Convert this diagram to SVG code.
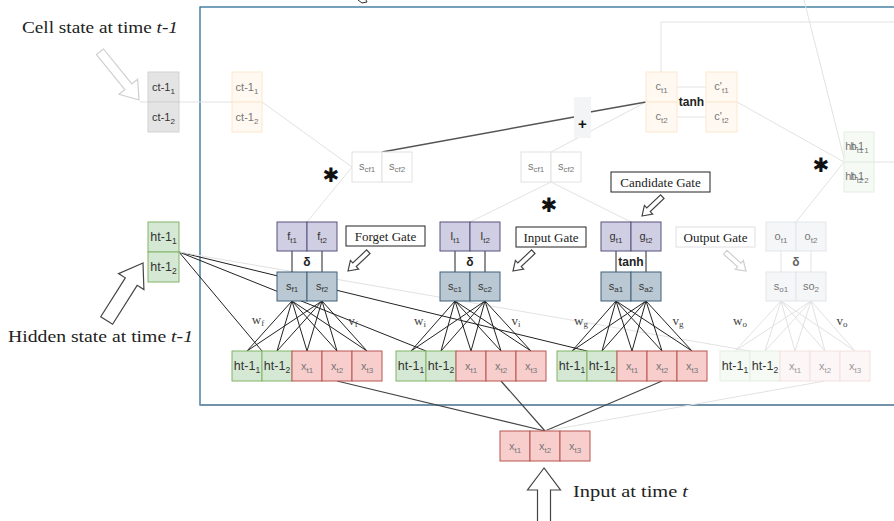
<svg xmlns="http://www.w3.org/2000/svg" width="894" height="521" viewBox="0 0 894 521">
<style>
  text { font-family: "Liberation Sans", Arial, sans-serif; }
  .t { font-size: 11px; fill: #333; text-anchor: middle; }
  .th { font-size: 12.5px; fill: #333; text-anchor: middle; }
  .tg { font-size: 11px; fill: #777; text-anchor: middle; }
  .tf { font-size: 11px; fill: #999; text-anchor: middle; }
  .serif { font-family: "Liberation Serif", "Times New Roman", serif; }
  .cap { font-size: 17px; fill: #222; }
  .gate { font-size: 13px; fill: #222; text-anchor: middle; }
  .wt { font-size: 13px; fill: #444; text-anchor: middle; }
  .op { font-size: 15px; font-weight: bold; fill: #111; text-anchor: middle; }
  .star { font-family: "DejaVu Sans", sans-serif; font-size: 20px; fill: #111; text-anchor: middle; }
  .gray { fill: #e4e4e4; stroke: #d2d2d2; }
  .org { fill: #fff9f1; stroke: #fbe7cf; }
  .wht { fill: #ffffff; stroke: #e2e2e2; }
  .pur { fill: #d0cee2; stroke: #56517e; }
  .stl { fill: #bac8d3; stroke: #3f6078; }
  .grn { fill: #d5e8d4; stroke: #82b366; }
  .red { fill: #f8cecc; stroke: #b85450; }
  .fgrn { fill: #f6faf5; stroke: #e3eee2; }
  .fred { fill: #fdf6f6; stroke: #f3e1e0; }
  .fgry { fill: #f5f6f8; stroke: #e3e5e8; }
  .dk { stroke: #222; stroke-width: 1; fill: none; }
  .mid { stroke: #555; stroke-width: 1.5; fill: none; }
  .lt { stroke: #e2e2e2; stroke-width: 1; fill: none; }
  .arrD { fill: #fff; stroke: #444; stroke-width: 1.2; }
  .arrL { fill: #fff; stroke: #cfcfcf; stroke-width: 1.2; }
</style>

<!-- outer frame -->
<g id="frame">
  <rect x="200" y="7" width="760" height="398" fill="none" stroke="#2b7096" stroke-width="1.3"/>
  <line x1="200" y1="405" x2="894" y2="405" stroke="#7393ab" stroke-width="2"/>
</g>

<!-- captions and pointer arrows -->
<g id="captions">
  <text class="serif cap" x="22" y="33" textLength="156" lengthAdjust="spacingAndGlyphs">Cell state at time <tspan font-style="italic">t-1</tspan></text>
  <text class="serif cap" x="8" y="342" textLength="185" lengthAdjust="spacingAndGlyphs">Hidden state at time <tspan font-style="italic">t-1</tspan></text>
  <text class="serif cap" x="573" y="497" textLength="115" lengthAdjust="spacingAndGlyphs">Input at time <tspan font-style="italic">t</tspan></text>
  <path class="arrL" transform="translate(139,100) rotate(51)" d="M0,0 L-17,-12 L-17,-4.5 L-62,-4.5 L-62,4.5 L-17,4.5 L-17,12 Z"/>
  <path class="arrD" transform="translate(143,263) rotate(-57.7)" d="M0,0 L-22,-15 L-22,-7 L-68,-7 L-68,7 L-22,7 L-22,15 Z"/>
  <path class="arrD" transform="translate(544,468) rotate(-90)" d="M0,0 L-22,-16.5 L-22,-6.5 L-60,-6.5 L-60,6.5 L-22,6.5 L-22,16.5 Z"/>
  <path d="M358,0 L362,3 L367,2 L366,0" fill="none" stroke="#333" stroke-width="1"/>
</g>

<!-- connectors -->
<g id="connectors">
  <!-- cell state path -->
  <polyline class="lt" points="140,102 262,102 352,167"/>
  <line class="lt" x1="307" y1="222" x2="352" y2="167"/>
  <line class="lt" x1="470" y1="222" x2="551" y2="182"/>
  <line class="lt" x1="631" y1="222" x2="551" y2="182"/>
  <line class="lt" x1="551" y1="152" x2="646" y2="102"/>
  <line class="mid" x1="382" y1="152" x2="574" y2="117"/>
  <line class="mid" x1="590" y1="112" x2="646" y2="102"/>
  <polyline class="lt" points="661,72 661,22 894,22"/>
  <line class="lt" x1="677" y1="87" x2="706" y2="87"/>
  <line class="lt" x1="677" y1="117" x2="706" y2="117"/>
  <line class="lt" x1="737" y1="102" x2="844" y2="162"/>
  <line class="lt" x1="796" y1="222" x2="844" y2="162"/>
  <line class="lt" x1="874" y1="162" x2="894" y2="162"/>
  <line class="lt" x1="804" y1="0" x2="845" y2="162"/>

  <!-- previous hidden state to each gate input -->
  <line class="dk" x1="179" y1="252" x2="262" y2="351"/>
  <line class="dk" x1="179" y1="252" x2="426" y2="351"/>
  <line class="dk" x1="179" y1="252" x2="587" y2="351"/>
  <line class="lt" x1="179" y1="252" x2="750" y2="351"/>

  <!-- gate activations -->
  <g class="dk">
    <line x1="292" y1="251" x2="292" y2="272"/><line x1="322" y1="251" x2="322" y2="272"/>
    <line x1="455" y1="251" x2="455" y2="272"/><line x1="485" y1="251" x2="485" y2="272"/>
    <line x1="616" y1="251" x2="616" y2="272"/><line x1="646" y1="251" x2="646" y2="272"/>
  </g>
  <g class="lt">
    <line x1="781" y1="251" x2="781" y2="272"/><line x1="811" y1="251" x2="811" y2="272"/>
  </g>

  <!-- weights: forget gate -->
  <g class="dk">
    <path d="M292,301 L247,351 M292,301 L277,351 M292,301 L307,351 M292,301 L337,351 M292,301 L367,351"/>
    <path d="M322,301 L247,351 M322,301 L277,351 M322,301 L307,351 M322,301 L337,351 M322,301 L367,351"/>
  </g>
  <!-- weights: input gate -->
  <g class="dk">
    <path d="M455,301 L411,351 M455,301 L441,351 M455,301 L471,351 M455,301 L501,351 M455,301 L531,351"/>
    <path d="M485,301 L411,351 M485,301 L441,351 M485,301 L471,351 M485,301 L501,351 M485,301 L531,351"/>
  </g>
  <!-- weights: candidate gate -->
  <g class="dk">
    <path d="M616,301 L572,351 M616,301 L602,351 M616,301 L632,351 M616,301 L662,351 M616,301 L692,351"/>
    <path d="M646,301 L572,351 M646,301 L602,351 M646,301 L632,351 M646,301 L662,351 M646,301 L692,351"/>
  </g>
  <!-- weights: output gate -->
  <g class="lt">
    <path d="M781,301 L735,351 M781,301 L765,351 M781,301 L795,351 M781,301 L825,351 M781,301 L855,351"/>
    <path d="M811,301 L735,351 M811,301 L765,351 M811,301 L795,351 M811,301 L825,351 M811,301 L855,351"/>
  </g>

  <!-- input at time t feeding each gate -->
  <g stroke="#444" stroke-width="1.2" fill="none">
    <line x1="337" y1="381" x2="545" y2="431"/>
    <line x1="501" y1="381" x2="545" y2="431"/>
    <line x1="662" y1="381" x2="545" y2="431"/>
  </g>
  <line class="lt" x1="825" y1="381" x2="545" y2="431"/>

  <!-- gate pointers -->
  <path class="arrD" transform="translate(348,271) rotate(136.5)" d="M0,0 L-9,-6 L-9,-2.5 L-28,-2.5 L-28,2.5 L-9,2.5 L-9,6 Z"/>
  <path class="arrD" transform="translate(513,271) rotate(136.5)" d="M0,0 L-9,-6 L-9,-2.5 L-28,-2.5 L-28,2.5 L-9,2.5 L-9,6 Z"/>
  <path class="arrD" transform="translate(642,216) rotate(136.5)" d="M0,0 L-9,-6 L-9,-2.5 L-28,-2.5 L-28,2.5 L-9,2.5 L-9,6 Z"/>
  <path class="arrL" transform="translate(746,271) rotate(42)" d="M0,0 L-9,-6 L-9,-2.5 L-28,-2.5 L-28,2.5 L-9,2.5 L-9,6 Z"/>
</g>

<!-- previous cell state -->
<g id="ct_prev">
  <rect class="gray" x="148" y="72" width="31" height="30"/>
  <rect class="gray" x="148" y="102" width="31" height="30"/>
  <text class="t" x="163.5" y="91" fill="#555">ct-1<tspan font-size="8" dy="3">1</tspan></text>
  <text class="t" x="163.5" y="121" fill="#555">ct-1<tspan font-size="8" dy="3">2</tspan></text>
</g>

<g id="ct_prev_in">
  <rect class="org" x="232" y="72" width="30" height="30"/>
  <rect class="org" x="232" y="102" width="30" height="30"/>
  <text class="tg" x="247" y="91">ct-1<tspan font-size="8" dy="3">1</tspan></text>
  <text class="tg" x="247" y="121">ct-1<tspan font-size="8" dy="3">2</tspan></text>
</g>

<!-- previous hidden state -->
<g id="ht_prev">
  <rect class="grn" x="148" y="222" width="31" height="30"/>
  <rect class="grn" x="148" y="252" width="31" height="30"/>
  <text class="th" x="163.5" y="241">ht-1<tspan font-size="8.5" dy="3">1</tspan></text>
  <text class="th" x="163.5" y="271">ht-1<tspan font-size="8.5" dy="3">2</tspan></text>
</g>

<!-- forget product -->
<g id="scf_forget">
  <rect class="wht" x="352" y="152" width="30" height="30"/>
  <rect class="wht" x="382" y="152" width="30" height="30"/>
  <text class="tg" x="367" y="170">s<tspan font-size="8" dy="2">cf1</tspan></text>
  <text class="tg" x="397" y="170">s<tspan font-size="8" dy="2">cf2</tspan></text>
  <text class="star" x="331" y="182">✱</text>
</g>

<g id="scf_input">
  <rect class="wht" x="521" y="152" width="30" height="30"/>
  <rect class="wht" x="551" y="152" width="30" height="30"/>
  <text class="tg" x="536" y="170">s<tspan font-size="8" dy="2">cf1</tspan></text>
  <text class="tg" x="566" y="170">s<tspan font-size="8" dy="2">cf2</tspan></text>
  <text class="star" x="549" y="212">✱</text>
</g>

<!-- addition -->
<g id="plus">
  <rect x="574" y="97" width="17" height="41" fill="#f3f4f6"/>
  <text class="op" x="582.5" y="129">+</text>
</g>

<!-- new cell state -->
<g id="ct">
  <rect class="org" x="646" y="72" width="31" height="30"/>
  <rect class="org" x="646" y="102" width="31" height="30"/>
  <text class="tg" x="661.5" y="90">c<tspan font-size="8" dy="3">t1</tspan></text>
  <text class="tg" x="661.5" y="120">c<tspan font-size="8" dy="3">t2</tspan></text>
  <text x="691.5" y="106" font-size="12" font-weight="bold" fill="#222" text-anchor="middle">tanh</text>
</g>

<g id="ct_tanh">
  <rect class="org" x="706" y="72" width="31" height="30"/>
  <rect class="org" x="706" y="102" width="31" height="30"/>
  <text class="tg" x="721.5" y="90">c'<tspan font-size="8" dy="3">t1</tspan></text>
  <text class="tg" x="721.5" y="120">c'<tspan font-size="8" dy="3">t2</tspan></text>
</g>

<!-- new hidden state (two labels printed over each other) -->
<g id="ht">
  <rect class="fgrn" x="844" y="132" width="30" height="30"/>
  <rect class="fgrn" x="844" y="162" width="30" height="30"/>
  <text class="tg" x="857" y="150">ht-1<tspan font-size="8" dy="3">1</tspan></text>
  <text class="tg" x="857" y="150">h<tspan font-size="8" dy="3">t1</tspan></text>
  <text class="tg" x="857" y="180">ht-1<tspan font-size="8" dy="3">2</tspan></text>
  <text class="tg" x="857" y="180">h<tspan font-size="8" dy="3">t2</tspan></text>
  <text class="star" x="821" y="172">✱</text>
</g>

<!-- forget gate -->
<g id="forget_gate">
  <rect class="pur" x="277" y="222" width="30" height="29"/>
  <rect class="pur" x="307" y="222" width="30" height="29"/>
  <text class="t" x="292" y="240">f<tspan font-size="8" dy="3">t1</tspan></text>
  <text class="t" x="322" y="240">f<tspan font-size="8" dy="3">t2</tspan></text>
  <text x="307" y="266" font-size="12" font-weight="bold" fill="#222" text-anchor="middle">δ</text>
  <rect class="stl" x="277" y="272" width="30" height="29"/>
  <rect class="stl" x="307" y="272" width="30" height="29"/>
  <text class="t" x="292" y="290">s<tspan font-size="8" dy="2">f1</tspan></text>
  <text class="t" x="322" y="290">s<tspan font-size="8" dy="2">f2</tspan></text>
  <rect x="346" y="226" width="79" height="20" fill="#fff" stroke="#222"/>
  <text class="serif gate" x="385.5" y="241">Forget Gate</text>
  <text class="serif wt" x="258" y="324">w<tspan font-size="9" dy="2">f</tspan></text>
  <text class="serif wt" x="353" y="325" fill="#888">v<tspan font-size="9" dy="2">f</tspan></text>
</g>

<!-- input gate -->
<g id="input_gate">
  <rect class="pur" x="440" y="222" width="30" height="29"/>
  <rect class="pur" x="470" y="222" width="30" height="29"/>
  <text class="t" x="455" y="240">I<tspan font-size="8" dy="3">t1</tspan></text>
  <text class="t" x="485" y="240">I<tspan font-size="8" dy="3">t2</tspan></text>
  <text x="470" y="266" font-size="12" font-weight="bold" fill="#222" text-anchor="middle">δ</text>
  <rect class="stl" x="440" y="272" width="30" height="29"/>
  <rect class="stl" x="470" y="272" width="30" height="29"/>
  <text class="t" x="455" y="290">s<tspan font-size="8" dy="2">c1</tspan></text>
  <text class="t" x="485" y="290">s<tspan font-size="8" dy="2">c2</tspan></text>
  <rect x="516" y="227" width="70" height="20" fill="#fff" stroke="#222"/>
  <text class="serif gate" x="551" y="242">Input Gate</text>
  <text class="serif wt" x="420" y="325">w<tspan font-size="9" dy="2">i</tspan></text>
  <text class="serif wt" x="516" y="325">v<tspan font-size="9" dy="2">i</tspan></text>
</g>

<!-- candidate gate -->
<g id="candidate_gate">
  <rect class="pur" x="601" y="222" width="30" height="29"/>
  <rect class="pur" x="631" y="222" width="30" height="29"/>
  <text class="t" x="616" y="240">g<tspan font-size="8" dy="3">t1</tspan></text>
  <text class="t" x="646" y="240">g<tspan font-size="8" dy="3">t2</tspan></text>
  <text x="631" y="266" font-size="12" font-weight="bold" fill="#222" text-anchor="middle">tanh</text>
  <rect class="stl" x="601" y="272" width="30" height="29"/>
  <rect class="stl" x="631" y="272" width="30" height="29"/>
  <text class="t" x="616" y="290">s<tspan font-size="8" dy="2">a1</tspan></text>
  <text class="t" x="646" y="290">s<tspan font-size="8" dy="2">a2</tspan></text>
  <rect x="611" y="172" width="99" height="20" fill="#fff" stroke="#222"/>
  <text class="serif gate" x="660.5" y="187">Candidate Gate</text>
  <text class="serif wt" x="581" y="325">w<tspan font-size="9" dy="2">g</tspan></text>
  <text class="serif wt" x="678" y="325">v<tspan font-size="9" dy="2">g</tspan></text>
</g>

<!-- output gate -->
<g id="output_gate">
  <rect class="fgry" x="766" y="222" width="30" height="29"/>
  <rect class="fgry" x="796" y="222" width="30" height="29"/>
  <text class="tg" x="781" y="240">o<tspan font-size="8" dy="3">t1</tspan></text>
  <text class="tg" x="811" y="240">o<tspan font-size="8" dy="3">t2</tspan></text>
  <text x="796" y="266" font-size="12" font-weight="bold" fill="#666" text-anchor="middle">δ</text>
  <rect class="fgry" x="766" y="272" width="30" height="29"/>
  <rect class="fgry" x="796" y="272" width="30" height="29"/>
  <text class="tg" x="781" y="290">s<tspan font-size="8" dy="2">o1</tspan></text>
  <text class="tg" x="811" y="290">so<tspan font-size="8" dy="2">2</tspan></text>
  <rect x="676" y="227" width="79" height="20" fill="#fff" stroke="#e0e0e0"/>
  <text class="serif gate" x="715.5" y="242" fill="#555">Output Gate</text>
  <text class="serif wt" x="740" y="325" fill="#999">w<tspan font-size="9" dy="2">o</tspan></text>
  <text class="serif wt" x="842" y="325" fill="#999">v<tspan font-size="9" dy="2">o</tspan></text>
</g>

<!-- gate inputs: [h(t-1), x(t)] -->
<g id="forget_in">
  <rect class="grn" x="232" y="351" width="30" height="30"/>
  <rect class="grn" x="262" y="351" width="30" height="30"/>
  <rect class="red" x="292" y="351" width="30" height="30"/>
  <rect class="red" x="322" y="351" width="30" height="30"/>
  <rect class="red" x="352" y="351" width="30" height="30"/>
  <text class="th" x="247" y="370">ht-1<tspan font-size="8.5" dy="3">1</tspan></text>
  <text class="th" x="277" y="370">ht-1<tspan font-size="8.5" dy="3">2</tspan></text>
  <text class="tg" x="307" y="370">x<tspan font-size="8" dy="3">t1</tspan></text>
  <text class="tg" x="337" y="370">x<tspan font-size="8" dy="3">t2</tspan></text>
  <text class="tg" x="367" y="370">x<tspan font-size="8" dy="3">t3</tspan></text>
</g>

<g id="input_in">
  <rect class="grn" x="396" y="351" width="30" height="30"/>
  <rect class="grn" x="426" y="351" width="30" height="30"/>
  <rect class="red" x="456" y="351" width="30" height="30"/>
  <rect class="red" x="486" y="351" width="30" height="30"/>
  <rect class="red" x="516" y="351" width="30" height="30"/>
  <text class="th" x="411" y="370">ht-1<tspan font-size="8.5" dy="3">1</tspan></text>
  <text class="th" x="441" y="370">ht-1<tspan font-size="8.5" dy="3">2</tspan></text>
  <text class="tg" x="471" y="370">x<tspan font-size="8" dy="3">t1</tspan></text>
  <text class="tg" x="501" y="370">x<tspan font-size="8" dy="3">t2</tspan></text>
  <text class="tg" x="531" y="370">x<tspan font-size="8" dy="3">t3</tspan></text>
</g>

<g id="candidate_in">
  <rect class="grn" x="557" y="351" width="30" height="30"/>
  <rect class="grn" x="587" y="351" width="30" height="30"/>
  <rect class="red" x="617" y="351" width="30" height="30"/>
  <rect class="red" x="647" y="351" width="30" height="30"/>
  <rect class="red" x="677" y="351" width="30" height="30"/>
  <text class="th" x="572" y="370">ht-1<tspan font-size="8.5" dy="3">1</tspan></text>
  <text class="th" x="602" y="370">ht-1<tspan font-size="8.5" dy="3">2</tspan></text>
  <text class="tg" x="632" y="370">x<tspan font-size="8" dy="3">t1</tspan></text>
  <text class="tg" x="662" y="370">x<tspan font-size="8" dy="3">t2</tspan></text>
  <text class="tg" x="692" y="370">x<tspan font-size="8" dy="3">t3</tspan></text>
</g>

<g id="output_in">
  <rect class="fgrn" x="720" y="351" width="30" height="30"/>
  <rect class="fgrn" x="750" y="351" width="30" height="30"/>
  <rect class="fred" x="780" y="351" width="30" height="30"/>
  <rect class="fred" x="810" y="351" width="30" height="30"/>
  <rect class="fred" x="840" y="351" width="30" height="30"/>
  <text class="th" x="735" y="370" fill="#555">ht-1<tspan font-size="8.5" dy="3">1</tspan></text>
  <text class="th" x="765" y="370" fill="#555">ht-1<tspan font-size="8.5" dy="3">2</tspan></text>
  <text class="tf" x="795" y="370">x<tspan font-size="8" dy="3">t1</tspan></text>
  <text class="tf" x="825" y="370">x<tspan font-size="8" dy="3">t2</tspan></text>
  <text class="tf" x="855" y="370">x<tspan font-size="8" dy="3">t3</tspan></text>
</g>

<!-- input at time t -->
<g id="xt">
  <rect class="red" x="500" y="431" width="30" height="30"/>
  <rect class="red" x="530" y="431" width="30" height="30"/>
  <rect class="red" x="560" y="431" width="30" height="30"/>
  <text class="tg" x="515" y="450">x<tspan font-size="8" dy="3">t1</tspan></text>
  <text class="tg" x="545" y="450">x<tspan font-size="8" dy="3">t2</tspan></text>
  <text class="tg" x="575" y="450">x<tspan font-size="8" dy="3">t3</tspan></text>
</g>
</svg>
